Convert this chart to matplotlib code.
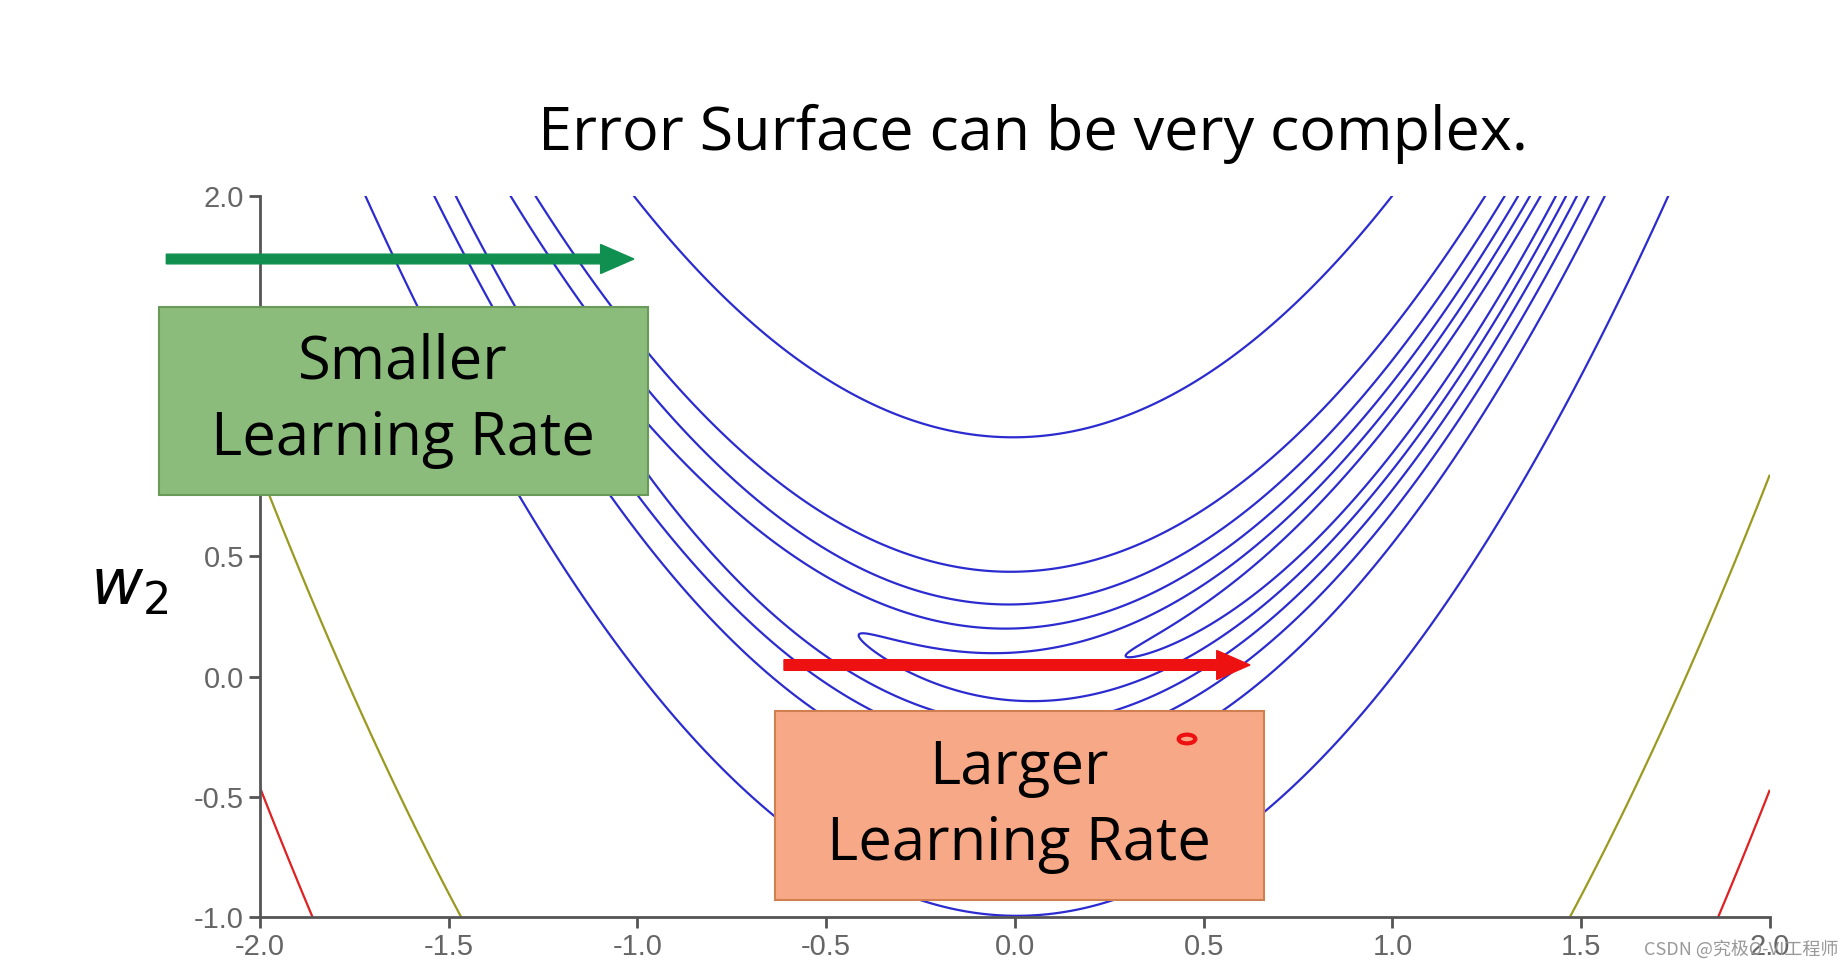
import matplotlib.pyplot as plt
import numpy as np

# contour levels of the error surface and their colours
LEVELS = [0.5, 2, 5, 10, 20, 100, 1000, 2000]
LEVEL_COLORS = ["#2b2bd0"] * 6 + ["#9a9a20", "#e02020"]
X_TICKS = [-2.0, -1.5, -1.0, -0.5, 0.0, 0.5, 1.0, 1.5, 2.0]
Y_TICKS = [-1.0, -0.5, 0.0, 0.5, 1.0, 1.5, 2.0]

w1 = np.linspace(-2, 2, 800)
w2 = np.linspace(-1, 2, 600)
W1, W2 = np.meshgrid(w1, w2)
loss = (1 - W1) ** 2 + 100 * (W2 - W1 ** 2) ** 2

fig = plt.figure(figsize=(18.48, 9.67), dpi=100)
ax = fig.add_axes([0.1407, 0.0517, 0.817, 0.746])
ax.contour(W1, W2, loss, levels=LEVELS, colors=LEVEL_COLORS, linewidths=1.6)
ax.set_xlim(-2, 2)
ax.set_ylim(-1, 2)
ax.set_xticks(X_TICKS)
ax.set_yticks(Y_TICKS)
ax.set_xticklabels([f"{t:.1f}" for t in X_TICKS], family="Liberation Sans")
ax.set_yticklabels([f"{t:.1f}" for t in Y_TICKS], family="Liberation Sans")
for s in ["top", "right"]:
    ax.spines[s].set_visible(False)
for s in ["left", "bottom"]:
    ax.spines[s].set_color("#555555")
    ax.spines[s].set_linewidth(2)
ax.tick_params(colors="#555555", labelcolor="#666666", labelsize=21, width=2, length=8)

fig.text(0.559, 0.862, "Error Surface can be very complex.", fontsize=44,
         family="Open Sans", ha="center", va="center")
fig.text(0.07, 0.393, r"$w_2$", fontsize=46, ha="center", va="center")

# green arrow + box
fig.patches.append(plt.matplotlib.patches.FancyArrow(
    0.09, 1 - 259 / 967, 0.253, 0, width=0.01, head_width=0.03, head_length=0.018,
    length_includes_head=True, color="#109050", transform=fig.transFigure, figure=fig))
fig.patches.append(plt.Rectangle((159 / 1848, 1 - 495 / 967), 489 / 1848, 188 / 967,
    facecolor="#8cbc7c", edgecolor="#6a9a5a", linewidth=1.5,
    transform=fig.transFigure, figure=fig))
fig.text(403 / 1848, 1 - 401 / 967, "Smaller\nLearning Rate", fontsize=43,
         family="Open Sans", ha="center", va="center", linespacing=1.35)

# red arrow + box
fig.patches.append(plt.matplotlib.patches.FancyArrow(
    784 / 1848, 1 - 665 / 967, 466 / 1848, 0, width=0.011, head_width=0.03,
    head_length=0.018, length_includes_head=True, color="#ee1111",
    transform=fig.transFigure, figure=fig))
fig.patches.append(plt.Rectangle((775 / 1848, 1 - 900 / 967), 489 / 1848, 189 / 967,
    facecolor="#f7a886", edgecolor="#d08050", linewidth=1.5,
    transform=fig.transFigure, figure=fig))
fig.text(1019 / 1848, 1 - 806 / 967, "Larger\nLearning Rate", fontsize=43,
         family="Open Sans", ha="center", va="center", linespacing=1.35)
fig.patches.append(plt.matplotlib.patches.Circle((1187 / 1848, 1 - 739 / 967), 0.0045,
    facecolor="none", edgecolor="#ee1111", linewidth=3,
    transform=fig.transFigure, figure=fig))

fig.text(0.995, 0.018, "CSDN @究极O-VI工程师", fontsize=13, color="#999999",
         ha="right", va="center", family=["Noto Sans CJK SC", "DejaVu Sans"])

fig.savefig("out.png", dpi=100)
